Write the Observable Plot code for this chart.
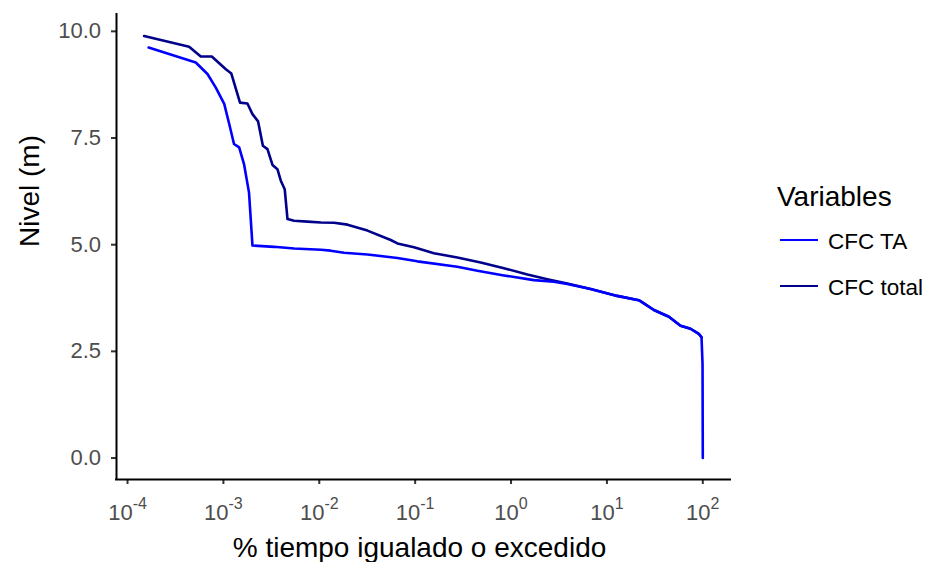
<!DOCTYPE html>
<html><head><meta charset="utf-8">
<script src="https://cdn.jsdelivr.net/npm/d3@7"></script>
<script src="https://cdn.jsdelivr.net/npm/@observablehq/plot@0.6"></script>
<style>
body{margin:0;background:#fff;}
#wrap{position:relative;width:933px;height:562px;font-family:"Liberation Sans",Arial,sans-serif;overflow:hidden;}
.lg-title{position:absolute;left:777px;top:183px;font-size:28px;line-height:28px;color:#000;white-space:nowrap}
.lg-key{position:absolute;left:780px;width:38px;height:0;border-top:2.6px solid}
.lg-label{position:absolute;left:828px;font-size:22.5px;line-height:22.5px;color:#000;white-space:nowrap}
</style></head><body><div id="wrap"></div>
<script>
// ---- data ----
const seriesNames = ["CFC TA", "CFC total"];
const seriesColors = ["#0000FF", "#00008B"];
const legendTitle = "Variables";
const xTitle = "% tiempo igualado o excedido";
const yTitle = "Nivel (m)";

const xTA = [1.66e-4, 5.15e-4, 6.82e-4, 8.33e-4, 1.02e-3, 1.15e-3, 1.29e-3, 1.46e-3, 1.64e-3, 1.85e-3, 2.01e-3,
  3.37e-3, 5.46e-3, 0.0104, 0.01316, 0.0181, 0.0318, 0.0653, 0.1055, 0.275, 0.446, 0.843, 1.73, 2.80, 3.86,
  6.76, 12.8, 21.5, 24.3, 30.9, 44.3, 58.6, 74.5, 90.9, 97.0, 99.4, 100];
const yTA = [9.62, 9.27, 9.00, 8.68, 8.30, 7.83, 7.36, 7.28, 6.89, 6.22, 4.98,
  4.95, 4.91, 4.88, 4.86, 4.81, 4.77, 4.69, 4.61, 4.485, 4.39, 4.28, 4.17, 4.13, 4.08,
  3.96, 3.80, 3.70, 3.625, 3.47, 3.31, 3.10, 3.03, 2.91, 2.83, 2.2, 0.0];

const xTotal = [1.49e-4, 4.39e-4, 5.81e-4, 7.57e-4, 1.06e-3, 1.21e-3, 1.49e-3, 1.78e-3, 2.01e-3, 2.30e-3, 2.58e-3,
  2.88e-3, 3.25e-3, 3.66e-3, 3.97e-3, 4.36e-3, 4.66e-3, 5.46e-3, 7.53e-3, 0.0104, 0.01426, 0.0197, 0.0318,
  0.0556, 0.0653, 0.0973, 0.157, 0.275, 0.482, 0.843, 1.48, 2.39, 3.86,
  6.76, 12.8, 21.5, 24.3, 30.9, 44.3, 58.6, 74.5, 90.9, 97.0];
const yTotal = [9.89, 9.64, 9.41, 9.41, 9.11, 9.01, 8.33, 8.31, 8.06, 7.89, 7.32,
  7.24, 6.87, 6.77, 6.50, 6.30, 5.60, 5.56, 5.54, 5.52, 5.515, 5.47, 5.33,
  5.11, 5.03, 4.94, 4.80, 4.70, 4.585, 4.45, 4.30, 4.19, 4.09,
  3.96, 3.80, 3.70, 3.625, 3.47, 3.31, 3.10, 3.03, 2.91, 2.83];

const xTicks = [1e-4, 1e-3, 1e-2, 1e-1, 1e0, 1e1, 1e2];
const yTicks = [0, 2.5, 5, 7.5, 10];

// ---- table ----
const rows = [
  ...xTotal.map((x, i) => ({series: seriesNames[1], x, y: yTotal[i]})),
  ...xTA.map((x, i) => ({series: seriesNames[0], x, y: yTA[i]}))
];

const xDomain = [Math.pow(10, -4.115), Math.pow(10, 2.289)];
const yDomain = [-0.503, 10.395];

const chart = Plot.plot({
  width: 740, height: 562,
  marginLeft: 116, marginRight: 10, marginTop: 14, marginBottom: 83,
  style: {fontFamily: '"Liberation Sans", Arial, sans-serif', background: "white", overflow: "visible"},
  x: {type: "log", domain: xDomain},
  y: {domain: yDomain},
  color: {domain: seriesNames, range: seriesColors},
  marks: [
    Plot.axisX({ticks: xTicks, tickSize: 5, tickPadding: 20, strokeWidth: 2, stroke: "#333333", fill: "#4D4D4D",
      fontSize: 22, label: null, tickFormat: d => String(Math.round(Math.log10(d)))}),
    Plot.axisY({ticks: yTicks, tickSize: 5, tickPadding: 10.5, strokeWidth: 2, stroke: "#333333", fill: "#4D4D4D",
      fontSize: 22, label: null, tickFormat: d3.format(".1f")}),
    Plot.ruleY([yDomain[0]], {stroke: "black", strokeWidth: 2, strokeLinecap: "square"}),
    Plot.ruleX([xDomain[0]], {stroke: "black", strokeWidth: 2, strokeLinecap: "square"}),
    Plot.line(rows, {x: "x", y: "y", z: "series", stroke: "series", strokeWidth: 2.6, strokeLinejoin: "round"}),
    Plot.text([xTitle], {text: d => d, frameAnchor: "bottom", lineAnchor: "bottom", dy: 77, dx: -4, fontSize: 28, fill: "black"}),
    Plot.text([yTitle], {text: d => d, frameAnchor: "left", lineAnchor: "bottom", rotate: -90, dx: -78, fontSize: 28, fill: "black"})
  ]
});

// superscript tick labels 10^n
d3.select(chart).selectAll('g[aria-label="x-axis tick label"] text').each(function() {
  const e = this.textContent;
  const t = d3.select(this);
  t.text(null);
  t.append("tspan").text("10");
  t.append("tspan").attr("dy", -11).attr("font-size", 16).text(e);
});

const wrap = document.getElementById("wrap");
wrap.appendChild(chart);

// legend
const lt = document.createElement("div");
lt.className = "lg-title"; lt.textContent = legendTitle; wrap.appendChild(lt);
const keyTops = [238.7, 285.4];
const labelTops = [231, 277];
seriesNames.forEach((name, i) => {
  const k = document.createElement("div");
  k.className = "lg-key"; k.style.top = keyTops[i] + "px"; k.style.borderTopColor = seriesColors[i];
  wrap.appendChild(k);
  const l = document.createElement("div");
  l.className = "lg-label"; l.style.top = labelTops[i] + "px"; l.textContent = name;
  wrap.appendChild(l);
});
</script></body></html>
